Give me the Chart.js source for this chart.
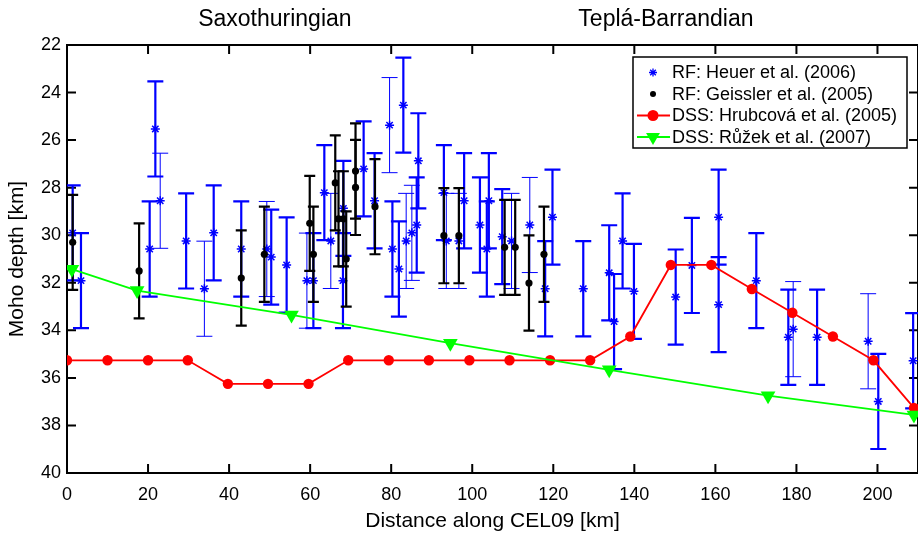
<!DOCTYPE html>
<html><head><meta charset="utf-8">
<script src="https://cdn.jsdelivr.net/npm/chart.js@4.4.0/dist/chart.umd.min.js"></script>
<style>html,body{margin:0;padding:0;background:#fff;overflow:hidden}#wrap{width:918px;height:534px}</style>
</head><body><div id="wrap"><canvas id="c" width="918" height="534"></canvas></div>
<script>
// ---- data ----
const heuerDist  = [1.4,3.45,20.4,21.8,23.0,29.4,33.9,36.2,43.0,49.3,50.4,54.2,59.2,60.8,63.5,65.1,68.1,68.2,73.2,75.9,79.6,80.3,81.9,83.0,83.7,85.1,86.3,86.7,93.0,93.6,96.7,98.0,101.9,103.6,104.1,107.4,109.7,114.2,118.0,119.8,127.4,133.8,135.0,137.1,139.9,150.2,154.2,160.8,160.8,170.1,178.0,179.2,185.1,197.7,200.2,208.8];
const heuerDepth = [29.9,31.91,30.58,25.53,28.55,30.24,32.25,29.9,30.58,30.58,30.92,31.25,31.91,31.91,28.21,30.24,31.91,28.87,27.21,28.55,25.37,30.58,31.42,24.53,30.24,29.9,29.57,26.87,28.21,30.24,30.24,28.55,29.57,30.58,28.55,30.06,30.24,29.57,32.25,29.24,32.25,31.58,33.63,30.24,32.36,32.6,31.27,29.24,32.92,31.91,34.29,33.95,34.29,34.46,36.99,35.28];
const heuerErr   = [2,2,2,2,2,2,2,2,2,2,2,2,2,2,2,2,2,2,2,2,2,2,2,2,2,2,2,2,2,2,2,2,2,2,2,2,2,2,2,2,2,2,2,2,2,2,2,2,2,2,2,2,2,2,2,2];

const geisslerDist  = [1.4,17.8,43.0,48.7,59.9,60.8,66.2,67.0,68.2,68.9,71.2,71.2,76.0,93.0,96.7,108.0,110.6,114.0,117.7];
const geisslerDepth = [30.3,31.5,31.8,30.8,29.5,30.8,27.8,29.31,29.31,31.0,27.3,27.99,28.8,30.02,30.02,30.51,30.51,32.01,30.8];
const geisslerErr   = [2,2,2,2,2,2,2,2,2,2,2,2,2,2,2,2,2,2,2];

const hrubcovaDist  = [0,10,20,29.8,39.7,49.6,59.6,69.4,79.4,89.3,99.3,109.2,119.2,129.1,139,149,159,169,179,189,199,209];
const hrubcovaDepth = [35.26,35.26,35.26,35.26,36.25,36.25,36.25,35.26,35.26,35.26,35.26,35.26,35.26,35.26,34.26,31.25,31.25,32.26,33.26,34.26,35.26,37.26];

const ruzekDist  = [1.2,17.3,55.4,94.6,133.8,173,209];
const ruzekDepth = [31.43,32.33,33.35,34.54,35.66,36.75,37.56];

const xTicks = [0,20,40,60,80,100,120,140,160,180,200];
const yTicks = [22,24,26,28,30,32,34,36,38,40];
const regionNames = ['Saxothuringian','Teplá-Barrandian'];
const legendLabels = ['RF: Heuer et al. (2006)','RF: Geissler et al. (2005)','DSS: Hrubcová et al. (2005)','DSS: Růžek et al. (2007)'];

// ---- styling / building ----
const FONT = "'Liberation Sans', Arial, Helvetica, sans-serif";
const BLUE = '#0000ff', RED = '#ff0000', GREEN = '#00ff00';
const thinHeuerBars = new Set([4,6,9,12,15,20,24,25,29,30,36,37,51,53]);

const pts = (xs, ys, es) => xs.map((x,i)=>({x, y: ys[i], err: es ? es[i] : 0}));

const errorBars = {
  id: 'errorBars',
  beforeDatasetDraw(chart, args) {
    const ds = chart.data.datasets[args.index];
    if (!ds.eb) return;
    const xs = chart.scales.x, ys = chart.scales.y, ctx = chart.ctx, a = chart.chartArea;
    ctx.save();
    ctx.beginPath(); ctx.rect(a.left, a.top, a.right - a.left, a.bottom - a.top); ctx.clip();
    ctx.strokeStyle = ds.eb.color;
    ds.data.forEach((p, i) => {
      const px = xs.getPixelForValue(p.x);
      const y1 = ys.getPixelForValue(p.y - p.err), y2 = ys.getPixelForValue(p.y + p.err);
      const w = ds.eb.width(i), c = ds.eb.cap;
      ctx.lineWidth = w;
      ctx.beginPath();
      ctx.moveTo(px, y1); ctx.lineTo(px, y2);
      ctx.moveTo(px - c, y1); ctx.lineTo(px + c, y1);
      ctx.moveTo(px - c, y2); ctx.lineTo(px + c, y2);
      ctx.stroke();
    });
    ctx.restore();
  }
};

const frame = {
  id: 'frame',
  beforeDatasetsDraw(chart) {
    const ctx = chart.ctx, a = chart.chartArea, xs = chart.scales.x, ys = chart.scales.y;
    ctx.save();
    ctx.strokeStyle = '#000'; ctx.lineWidth = 2;
    ctx.beginPath();
    ctx.rect(a.left, a.top, a.right - a.left, a.bottom - a.top);
    const L = 9;
    xTicks.forEach(v => { const x = xs.getPixelForValue(v);
      ctx.moveTo(x, a.bottom); ctx.lineTo(x, a.bottom - L);
      ctx.moveTo(x, a.top); ctx.lineTo(x, a.top + L); });
    yTicks.forEach(v => { const y = ys.getPixelForValue(v);
      ctx.moveTo(a.left, y); ctx.lineTo(a.left + L, y);
      ctx.moveTo(a.right, y); ctx.lineTo(a.right - L, y); });
    ctx.stroke();
    ctx.restore();
  },
  afterDraw(chart) {
    const ctx = chart.ctx, xs = chart.scales.x;
    ctx.save();
    ctx.fillStyle = '#000';
    ctx.font = '23px ' + FONT;
    ctx.textAlign = 'center'; ctx.textBaseline = 'alphabetic';
    ctx.fillText(regionNames[0], xs.getPixelForValue(51.3), 26);
    ctx.fillText(regionNames[1], xs.getPixelForValue(147.8), 26);
    // legend
    const bx = 633, by = 57, bw = 274, bh = 91;
    ctx.fillStyle = '#fff'; ctx.fillRect(bx, by, bw, bh);
    ctx.strokeStyle = '#000'; ctx.lineWidth = 1.5; ctx.strokeRect(bx, by, bw, bh);
    const rows = [72.5, 94, 115.5, 137];
    const mx = 653;
    ctx.font = '18px ' + FONT; ctx.textAlign = 'left'; ctx.textBaseline = 'middle'; ctx.fillStyle = '#000';
    legendLabels.forEach((t, i) => ctx.fillText(t, 672, rows[i] + 1));
    // star
    ctx.strokeStyle = BLUE; ctx.lineWidth = 1.3;
    ctx.beginPath();
    const r = 4, y0 = rows[0];
    ctx.moveTo(mx - r, y0); ctx.lineTo(mx + r, y0);
    ctx.moveTo(mx, y0 - r); ctx.lineTo(mx, y0 + r);
    const d = r * 0.707;
    ctx.moveTo(mx - d, y0 - d); ctx.lineTo(mx + d, y0 + d);
    ctx.moveTo(mx - d, y0 + d); ctx.lineTo(mx + d, y0 - d);
    ctx.stroke();
    // dot
    ctx.fillStyle = '#000'; ctx.beginPath(); ctx.arc(mx, rows[1], 3, 0, Math.PI * 2); ctx.fill();
    // red
    ctx.strokeStyle = RED; ctx.lineWidth = 2; ctx.beginPath(); ctx.moveTo(637, rows[2]); ctx.lineTo(670, rows[2]); ctx.stroke();
    ctx.fillStyle = RED; ctx.beginPath(); ctx.arc(mx, rows[2], 5.5, 0, Math.PI * 2); ctx.fill();
    // green
    ctx.strokeStyle = GREEN; ctx.beginPath(); ctx.moveTo(637, rows[3]); ctx.lineTo(670, rows[3]); ctx.stroke();
    ctx.fillStyle = GREEN; ctx.beginPath();
    const tr = 8;
    ctx.moveTo(mx, rows[3] + tr); ctx.lineTo(mx - tr * 0.866, rows[3] - tr / 2); ctx.lineTo(mx + tr * 0.866, rows[3] - tr / 2); ctx.closePath(); ctx.fill();
    ctx.restore();
  }
};

new Chart(document.getElementById('c'), {
  type: 'scatter',
  data: {
    datasets: [
      { label: legendLabels[0], data: pts(heuerDist, heuerDepth, heuerErr),
        pointStyle: 'star', pointRadius: 4.5, pointBorderColor: BLUE, pointBorderWidth: 1.5,
        borderColor: BLUE, backgroundColor: BLUE, showLine: false, order: 4,
        eb: { color: BLUE, cap: 8, width: i => thinHeuerBars.has(i) ? 1 : 2.2 } },
      { label: legendLabels[1], data: pts(geisslerDist, geisslerDepth, geisslerErr),
        pointStyle: 'circle', pointRadius: 3.6, pointBorderWidth: 0, backgroundColor: '#000', borderColor: '#000',
        showLine: false, order: 3,
        eb: { color: '#000', cap: 5.5, width: () => 2.2 } },
      { label: legendLabels[2], data: pts(hrubcovaDist, hrubcovaDepth),
        pointStyle: 'circle', pointRadius: 5.2, pointBorderWidth: 0, backgroundColor: RED, borderColor: RED,
        borderWidth: 1.8, showLine: true, order: 2 },
      { label: legendLabels[3], data: pts(ruzekDist, ruzekDepth),
        pointStyle: 'triangle', rotation: 180, pointRadius: 8.5, pointBorderWidth: 0, backgroundColor: GREEN, borderColor: GREEN,
        borderWidth: 1.8, showLine: true, order: 1 }
    ]
  },
  options: {
    responsive: false, animation: false, devicePixelRatio: 1,
    layout: { autoPadding: false, padding: { top: 45, left: 0, right: 0, bottom: 0 } },
    plugins: { legend: { display: false }, tooltip: { enabled: false } },
    scales: {
      x: { type: 'linear', min: 0, max: 210,
        afterBuildTicks: s => { s.ticks = xTicks.map(v => ({ value: v })); },
        afterFit: s => { s.height = 61; s.paddingLeft = 0; s.paddingRight = 0; },
        grid: { display: false, drawTicks: false }, border: { display: false },
        ticks: { color: '#000', font: { family: FONT, size: 18 }, padding: 11, maxRotation: 0, autoSkip: false },
        title: { display: true, text: 'Distance along CEL09 [km]', color: '#000', font: { family: FONT, size: 21 }, padding: { top: 0, bottom: 0 } } },
      y: { type: 'linear', reverse: true, min: 22, max: 40,
        afterBuildTicks: s => { s.ticks = yTicks.map(v => ({ value: v })); },
        afterFit: s => { s.width = 67; s.paddingTop = 0; s.paddingBottom = 0; },
        grid: { display: false, drawTicks: false }, border: { display: false },
        ticks: { color: '#000', font: { family: FONT, size: 18 }, padding: 6, autoSkip: false },
        title: { display: true, text: 'Moho depth [km]', color: '#000', font: { family: FONT, size: 21 }, padding: { top: 5, bottom: 0 } } }
    }
  },
  plugins: [errorBars, frame]
});
</script></body></html>
